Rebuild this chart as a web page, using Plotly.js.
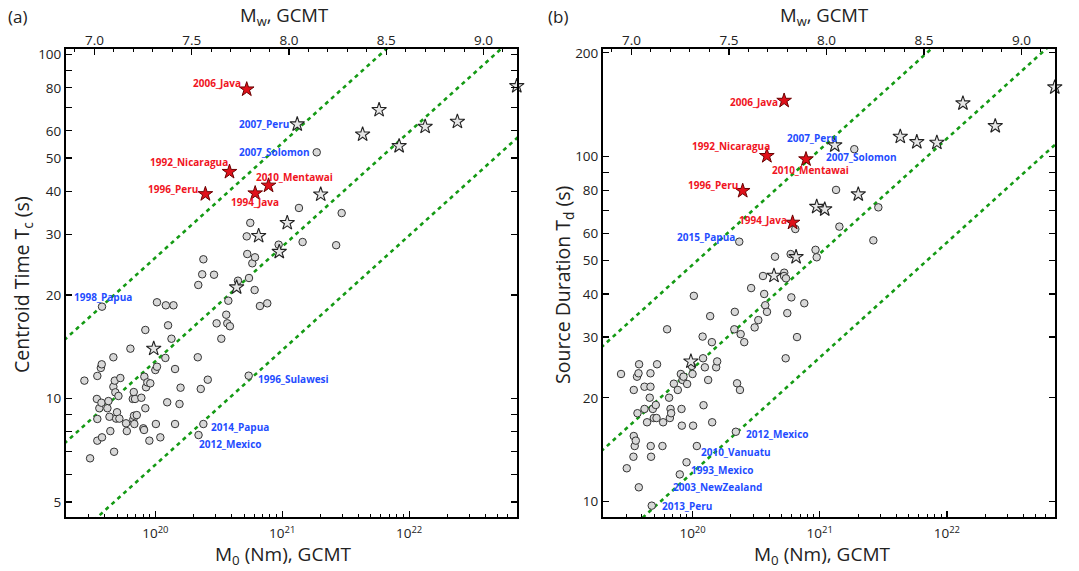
<!DOCTYPE html>
<html><head><meta charset="utf-8">
<script src="https://cdn.plot.ly/plotly-3.0.1.min.js"></script>
<style>html,body{margin:0;padding:0;background:#fff}#plot{width:1079px;height:571px}</style>
</head><body><div id="plot"></div>
<script>
// ---------------- data ----------------
// red stars (same events in both panels)
const redNames = ['1992_Nicaragua','1994_Java','1996_Peru','2006_Java','2010_Mentawai'];
const redM0 = [3.84e20, 6.12e20, 2.48e20, 5.25e20, 7.80e20];
const redTc = [45.6, 39.5, 39.3, 79.2, 41.6];
const redTd = [100.5, 64.4, 79.6, 145.3, 98.3];

// gray stars (same events in both panels)
const starM0 = [9.71e19, 4.37e20, 6.52e20, 9.47e20, 1.095e21, 1.313e21, 2.01e21, 4.30e21, 5.80e21, 8.34e21, 1.337e22, 2.40e22, 7.05e22];
const starTc = [13.96, 21.05, 29.7, 26.7, 32.4, 62.7, 39.2, 58.6, 69.0, 54.2, 61.7, 63.8, 81.0];
const starTd = [25.5, 45.2, 51.2, 71.6, 70.4, 107.9, 77.8, 114.3, 110.3, 109.8, 142.8, 122.7, 158.9];

// labelled circles, panel (a)
const tagNamesA = ['1998_Papua','1996_Sulawesi','2014_Papua','2012_Mexico','2007_Solomon'];
const tagM0A = [3.80e19, 5.44e20, 2.39e20, 2.19e20, 1.87e21];
const tagTcA = [18.49, 11.65, 8.43, 7.83, 51.96];

// labelled circles, panel (b)
const tagNamesB = ['2015_Papua','2007_Solomon','2012_Mexico','2010_Vanuatu','1993_Mexico','2003_NewZealand','2013_Peru'];
const tagM0B = [2.33e20, 1.87e21, 2.19e20, 1.081e20, 8.97e19, 7.94e19, 4.78e19];
const tagTdB = [56.7, 105.1, 15.95, 14.50, 13.01, 12.00, 9.74];

// other circles, panel (a)
const circM0A = [2.76e19,3.06e19,3.46e19,3.49e19,3.49e19,3.49e19,3.62e19,3.72e19,3.78e19,3.80e19,3.76e19,4.19e19,4.27e19,4.35e19,4.42e19,4.67e19,4.73e19,4.67e19,4.79e19,4.84e19,4.91e19,4.99e19,5.12e19,5.21e19,5.30e19,5.88e19,5.96e19,6.36e19,6.64e19,6.76e19,6.71e19,6.83e19,6.79e19,7.14e19,6.92e19,7.76e19,8.04e19,8.15e19,8.19e19,8.34e19,8.34e19,8.45e19,8.65e19,8.97e19,9.13e19,1.00e20,1.01e20,1.03e20,1.03e20,1.095e20,1.20e20,1.21e20,1.24e20,1.26e20,1.34e20,1.39e20,1.43e20,1.43e20,1.55e20,1.58e20,2.16e20,2.18e20,2.28e20,2.34e20,2.39e20,2.59e20,2.90e20,3.04e20,3.31e20,3.62e20,3.69e20,3.76e20,3.87e20,4.48e20,5.30e20,5.47e20,5.81e20,6.06e20,6.10e20,6.67e20,7.62e20,1.354e21,2.94e21,5.60e20,5.25e20,9.37e20,1.447e21,2.66e21];
const circTcA = [11.27,6.70,9.97,11.63,8.72,7.54,9.37,12.27,12.57,7.71,9.72,9.37,9.83,8.85,8.04,13.18,7.00,10.82,11.27,10.42,8.74,9.12,10.17,8.74,11.47,8.47,8.04,13.96,9.97,10.44,8.70,8.43,8.91,8.95,9.97,10.05,8.19,8.10,11.57,15.82,9.37,10.78,11.14,7.54,11.07,12.10,8.43,12.37,19.04,7.71,13.12,18.66,9.75,16.32,14.92,18.66,12.18,8.43,9.64,10.75,13.18,21.38,10.66,22.96,25.39,11.34,22.9,16.54,14.92,17.52,16.54,19.24,16.22,22.0,26.3,22.4,24.72,20.67,25.73,18.57,18.91,35.8,34.6,32.4,29.6,28.0,28.5,27.9];

// other circles, panel (b)
const circM0B = [2.74e19,3.04e19,3.45e19,3.45e19,3.51e19,3.58e19,3.43e19,3.69e19,3.66e19,3.76e19,3.80e19,3.78e19,4.19e19,4.19e19,4.39e19,4.61e19,4.67e19,4.67e19,4.69e19,4.72e19,4.87e19,4.96e19,5.14e19,5.21e19,5.26e19,5.80e19,5.87e19,6.31e19,6.54e19,6.63e19,6.71e19,6.79e19,7.13e19,7.66e19,8.09e19,8.19e19,8.24e19,8.34e19,8.49e19,9.07e19,9.87e19,1.00e20,1.01e20,1.024e20,1.20e20,1.21e20,1.22e20,1.25e20,1.327e20,1.376e20,1.419e20,1.427e20,1.534e20,1.562e20,2.13e20,2.15e20,2.24e20,2.36e20,2.39e20,2.55e20,2.89e20,3.08e20,3.29e20,3.58e20,3.66e20,3.73e20,3.85e20,5.26e20,5.24e20,5.43e20,5.40e20,5.56e20,5.98e20,6.63e20,7.56e20,6.43e20,4.45e20,5.91e20,9.27e20,9.47e20,1.344e21,2.89e21,1.427e21,2.64e21];
const circTdB = [23.45,12.50,21.08,15.50,14.50,15.03,13.50,18.05,23.03,23.56,25.02,11.01,21.54,18.57,16.99,20.02,21.54,23.56,14.50,13.50,18.57,17.48,19.07,17.48,25.02,14.50,16.99,31.6,20.02,17.48,18.57,18.05,21.98,21.08,23.45,18.57,16.61,22.53,23.03,21.94,24.74,23.45,16.61,39.5,30.1,26.04,19.04,24.52,22.53,34.5,29.0,16.99,24.52,25.5,31.6,35.5,22.04,21.08,30.6,29.0,41.6,32.0,33.6,45.1,40.0,37.1,35.5,46.1,45.1,44.4,26.04,35.2,39.1,30.0,37.6,61.7,51.3,52.2,53.7,51.1,80.1,71.3,62.7,57.2];

// green reference lines (T ~ M0^(1/3)), end values read at M0 = 1e19 and 1e23
const lineM0 = [1e19, 1e23];
const lineTcA = [[11.91, 256.6], [5.955, 128.3], [2.978, 64.15]];
const lineTdB = [[22.56, 486.0], [11.28, 243.0], [5.64, 121.5]];

// tick labels
const m0Ticks = [1e20, 1e21, 1e22];
const m0TickText = ['10<sup>20</sup>', '10<sup>21</sup>', '10<sup>22</sup>'];
const mwTicks = [7.0, 7.5, 8.0, 8.5, 9.0];
const mwTickText = ['7.0', '7.5', '8.0', '8.5', '9.0'];
const tcTicks = [5, 10, 20, 30, 40, 50, 60, 80, 100];
const tcMinor = [6, 7, 8, 9, 70, 90];
const tdTicks = [10, 20, 30, 40, 50, 60, 80, 100, 200];
const tdMinor = [70, 90];

// ---------------- drawing ----------------
const FONT = '"Open Sans", "Noto Sans", sans-serif';
const RED = '#f0141e', BLUE = '#1f4dff', GREEN = '#149a14';
const m0Minor = [];
[1e19, 1e20, 1e21, 1e22].forEach(d => { for (let k = 2; k <= 9; k++) m0Minor.push(k * d); });
const mwMinor = [];
for (let v = 68; v <= 92; v++) mwMinor.push(v / 10);

function panelTraces(xa, ya, lines, circM0, circT, tagM0, tagT, sT, rT) {
  const tr = [];
  lines.forEach(l => tr.push({x: lineM0, y: l, xaxis: xa, yaxis: ya, mode: 'lines', hoverinfo: 'skip',
    line: {color: GREEN, width: 2.6, dash: '4px,4px'}}));
  tr.push({x: circM0.concat(tagM0), y: circT.concat(tagT), xaxis: xa, yaxis: ya, mode: 'markers',
    marker: {symbol: 'circle', size: 7.5, color: '#d8d8d8', line: {color: '#333', width: 1}}});
  tr.push({x: starM0, y: sT, xaxis: xa, yaxis: ya, mode: 'markers', cliponaxis: false,
    marker: {symbol: 'star', size: 11, color: '#e6e6e6', line: {color: '#222', width: 1.1}}});
  tr.push({x: redM0, y: rT, xaxis: xa, yaxis: ya, mode: 'markers',
    marker: {symbol: 'star', size: 11, color: '#e0101a', line: {color: '#6a0000', width: 1}}});
  return tr;
}

const traces = [].concat(
  panelTraces('x', 'y', lineTcA, circM0A, circTcA, tagM0A, tagTcA, starTc, redTc),
  panelTraces('x3', 'y3', lineTdB, circM0B, circTdB, tagM0B, tagTdB, starTd, redTd),
  [{x: [8], y: [10], xaxis: 'x2', yaxis: 'y', mode: 'markers', marker: {opacity: 0}, hoverinfo: 'skip'},
   {x: [8], y: [20], xaxis: 'x4', yaxis: 'y3', mode: 'markers', marker: {opacity: 0}, hoverinfo: 'skip'}]
);

const W = 1079, H = 571;
const yDom = [1 - 517 / H, 1 - 49 / H];
const tickFont = {family: FONT, size: 13.5, color: '#222'};

function m0Axis(dom, ya) {
  return {type: 'log', domain: dom, range: [19.296, 22.85], anchor: ya, showline: true, linecolor: '#000',
    linewidth: 2, mirror: true, ticks: 'inside', ticklen: 6, tickwidth: 1.2, tickcolor: '#000',
    tickmode: 'array', tickvals: m0Ticks, ticktext: m0TickText, showgrid: false, zeroline: false,
    tickfont: tickFont, ticklabelstandoff: 3,
    minor: {tickmode: 'array', tickvals: m0Minor, ticks: 'inside', ticklen: 3, tickwidth: 1, tickcolor: '#000', showgrid: false}};
}
function mwAxis(over, ya) {
  return {overlaying: over, side: 'top', anchor: ya, range: [6.854, 9.172], showline: false,
    ticks: 'inside', ticklen: 6, tickwidth: 1.2, tickcolor: '#000', tickmode: 'array',
    tickvals: mwTicks, ticktext: mwTickText, showgrid: false, zeroline: false, tickfont: tickFont,
    minor: {tickmode: 'array', tickvals: mwMinor, ticks: 'inside', ticklen: 3, tickwidth: 1, tickcolor: '#000', showgrid: false}};
}
function tAxis(xa, range, ticks, minor) {
  return {type: 'log', domain: yDom, range: range, anchor: xa, showline: true, linecolor: '#000', linewidth: 2,
    mirror: 'allticks', ticks: 'inside', ticklen: 6, tickwidth: 1.2, tickcolor: '#000', tickmode: 'array',
    tickvals: ticks, ticktext: ticks.map(String), showgrid: false, zeroline: false, tickfont: tickFont,
    minor: {tickmode: 'array', tickvals: minor, ticks: 'inside', ticklen: 3, tickwidth: 1, tickcolor: '#000', showgrid: false}};
}

// event labels: [name, set, index, colour, xanchor, xshift, yshift]
const labelsA = [
  ['2006_Java', 'red', 3, RED, 'right', -4, 6],
  ['1992_Nicaragua', 'red', 0, RED, 'right', 1, 10],
  ['1996_Peru', 'red', 2, RED, 'right', -5, 5],
  ['1994_Java', 'red', 1, RED, 'center', 0, -9],
  ['2010_Mentawai', 'red', 4, RED, 'left', -15, 9],
  ['2007_Peru', 'star', 5, BLUE, 'right', -6, 0],
  ['2007_Solomon', 'tag', 4, BLUE, 'right', -5, 0],
  ['1998_Papua', 'tag', 0, BLUE, 'center', 1, 10],
  ['1996_Sulawesi', 'tag', 1, BLUE, 'left', 7, -3.5],
  ['2014_Papua', 'tag', 2, BLUE, 'left', 6, -2.5],
  ['2012_Mexico', 'tag', 3, BLUE, 'left', -2, -8.5]
];
const labelsB = [
  ['2006_Java', 'red', 3, RED, 'right', -4, -1.5],
  ['1992_Nicaragua', 'red', 0, RED, 'right', 5, 10],
  ['2010_Mentawai', 'red', 4, RED, 'center', 5, -11],
  ['1996_Peru', 'red', 2, RED, 'right', -3, 6],
  ['1994_Java', 'red', 1, RED, 'right', -4, 3],
  ['2007_Peru', 'star', 5, BLUE, 'right', 4, 7],
  ['2007_Solomon', 'tag', 1, BLUE, 'left', -30, -7.5],
  ['2015_Papua', 'tag', 0, BLUE, 'right', -2.5, 5],
  ['2012_Mexico', 'tag', 2, BLUE, 'left', 8, -2.5],
  ['2010_Vanuatu', 'tag', 3, BLUE, 'left', 2, -5.5],
  ['1993_Mexico', 'tag', 4, BLUE, 'left', 2.5, -7.5],
  ['2003_NewZealand', 'tag', 5, BLUE, 'left', -9, -12.5],
  ['2013_Peru', 'tag', 6, BLUE, 'left', 8.5, 0]
];

const annotations = [];
function addLabels(list, xa, ya, sets) {
  list.forEach(([name, set, i, col, anc, xs, ys]) => {
    const s = sets[set];
    annotations.push({xref: xa, yref: ya, x: Math.log10(s[0][i]), y: Math.log10(s[1][i]), text: name,
      showarrow: false, xanchor: anc, yanchor: 'middle', xshift: xs, yshift: ys,
      font: {family: FONT, size: 10, color: col, weight: 'bold'}});
  });
}
addLabels(labelsA, 'x', 'y', {red: [redM0, redTc], star: [starM0, starTc], tag: [tagM0A, tagTcA]});
addLabels(labelsB, 'x3', 'y3', {red: [redM0, redTd], star: [starM0, starTd], tag: [tagM0B, tagTdB]});

function paperText(text, px, py, size, extra) {
  annotations.push(Object.assign({xref: 'paper', yref: 'paper', x: px / W, y: 1 - py / H, text: text,
    showarrow: false, xanchor: 'center', yanchor: 'middle', font: {family: FONT, size: size, color: '#222'}}, extra || {}));
}
paperText('(a)', 6, 17, 17, {xanchor: 'left'});
paperText('(b)', 546, 17, 17, {xanchor: 'left'});
paperText('M<sub>w</sub>, GCMT', 284, 16, 18.5);
paperText('M<sub>w</sub>, GCMT', 824, 16, 18.5);
paperText('M<sub>0</sub> (Nm), GCMT', 283, 555, 19);
paperText('M<sub>0</sub> (Nm), GCMT', 822, 555, 19);
paperText('Centroid Time T<sub>c</sub> (s)', 22, 285, 19.5, {textangle: -90});
paperText('Source Duration T<sub>d</sub> (s)', 563, 285, 19.5, {textangle: -90});

const layout = {
  width: W, height: H, margin: {l: 0, r: 0, t: 0, b: 0}, paper_bgcolor: '#fff', plot_bgcolor: '#fff',
  showlegend: false, font: {family: FONT, color: '#222'},
  xaxis: m0Axis([66 / W, 517 / W], 'y'),
  xaxis2: mwAxis('x', 'y'),
  yaxis: tAxis('x', [0.6555, 2.016], tcTicks, tcMinor),
  xaxis3: m0Axis([603 / W, 1055 / W], 'y3'),
  xaxis4: mwAxis('x3', 'y3'),
  yaxis3: tAxis('x3', [0.9557, 2.312], tdTicks, tdMinor),
  annotations: annotations
};

Plotly.newPlot('plot', traces, layout, {displayModeBar: false, staticPlot: true});
</script></body></html>
